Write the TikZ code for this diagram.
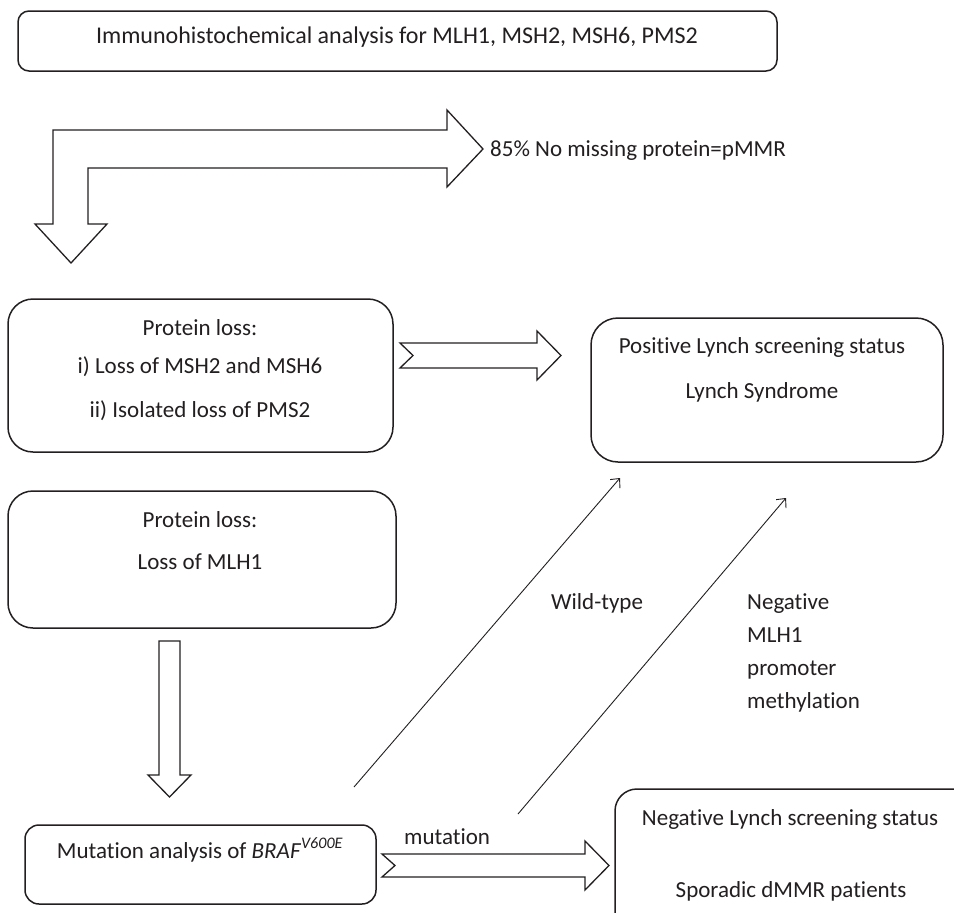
\documentclass[tikz,border=0pt]{standalone}
\usepackage{fontspec}
\setmainfont{Carlito}[Ligatures=NoCommon]
\usetikzlibrary{arrows.meta}
\definecolor{ink}{HTML}{231F20}
\begin{document}
\begin{tikzpicture}[x=1pt,y=-1pt,
  every node/.style={font=\fontsize{23}{33}\selectfont, text=ink},
  boxnode/.style={draw=ink, line width=1.5pt, rectangle, inner sep=0pt},
  txt/.style={anchor=base, inner sep=0pt},
  txtl/.style={anchor=base west, inner sep=0pt},
  blockarrow/.style={draw=ink, line width=1.3pt, fill=white, line join=miter},
  thinarrow/.style={draw=ink, line width=0.9pt, -{Straight Barb[length=7pt,width=13pt,line width=0.9pt]}}
]
\useasboundingbox (0,0) rectangle (954,913);
\fill[white] (0,0) rectangle (954,913);
\begin{scope}
\clip (0,0) rectangle (954,913);

% boxes
\node[boxnode, rounded corners=11pt, minimum width=759pt, minimum height=60pt] (top) at (397.5,41) {};
\node[boxnode, rounded corners=25pt, minimum width=385pt, minimum height=153pt] (loss1) at (200.5,375.5) {};
\node[boxnode, rounded corners=27pt, minimum width=352pt, minimum height=144pt] (pos) at (767,390) {};
\node[boxnode, rounded corners=25pt, minimum width=388pt, minimum height=137pt] (loss2) at (202,559.5) {};
\node[boxnode, rounded corners=14pt, minimum width=351pt, minimum height=79pt] (mut) at (200.5,864.5) {};
\node[boxnode, rounded corners=22pt, minimum width=360pt, minimum height=150pt] (neg) at (795,864) {};

% texts
\node[txt, font=\fontsize{24}{30}\selectfont] (ttop) at (397,43) {Immunohistochemical analysis for MLH1, MSH2, MSH6, PMS2};
\node[txtl] (tpmmr) at (490,156) {85\% No missing protein=pMMR};
\node[txt] (tl1a) at (200,335) {Protein loss:};
\node[txt] (tl1b) at (200,373) {i) Loss of MSH2 and MSH6};
\node[txt] (tl1c) at (200,417) {ii) Isolated loss of PMS2};
\node[txt] (tposa) at (762,353) {Positive Lynch screening status};
\node[txt] (tposb) at (762,398) {Lynch Syndrome};
\node[txt] (tl2a) at (200,527) {Protein loss:};
\node[txt] (tl2b) at (200,569) {Loss of MLH1};
\node[txtl] (twild) at (551,609) {Wild-type};
\node[txtl, align=left] (tnegm) at (747,708) {Negative\\MLH1\\promoter\\methylation};
\node[txtl] (tmutl) at (404,844) {mutation};
\node[txt] (tmut) at (200,858) {Mutation analysis of \textit{BRAF}\textsuperscript{\itshape V600E}};
\node[txt] (tnega) at (790,825) {Negative Lynch screening status};
\node[txt] (tnegb) at (791,897) {Sporadic dMMR patients};

% block arrows
\draw[blockarrow] (88,224) -- (88,168) -- (447,168) -- (447,187) -- (483,149) -- (447,110) -- (447,130) -- (53,130) -- (53,224) -- (35,224) -- (71,263) -- (107,224) -- cycle;
\draw[blockarrow] (400,343) -- (537,343) -- (537,331) -- (561,355.5) -- (537,380) -- (537,368) -- (400,368) -- (413,355.5) -- cycle;
\draw[blockarrow] (159,641) -- (180,641) -- (180,775) -- (191,775) -- (169.5,797) -- (148,775) -- (159,775) -- cycle;
\draw[blockarrow] (382,854) -- (585,854) -- (585,841) -- (609,865.5) -- (585,890) -- (585,877) -- (382,877) -- (395,865.5) -- cycle;

% thin arrows
\coordinate (w1) at (354,787);
\coordinate (w2) at (620,478);
\coordinate (n1) at (518,814);
\coordinate (n2) at (786,498);
\draw[thinarrow] (w1) -- (w2);
\draw[thinarrow] (n1) -- (n2);
\end{scope}
\end{tikzpicture}
\end{document}
